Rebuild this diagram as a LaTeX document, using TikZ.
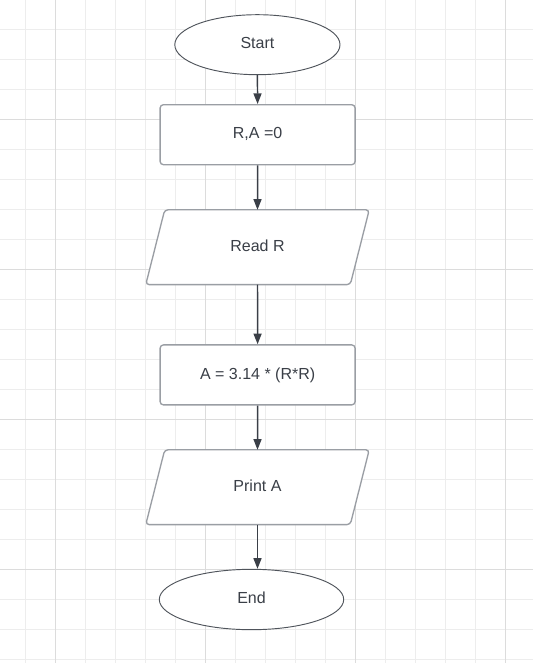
\documentclass[tikz,border=0pt]{standalone}
\usepackage{fontspec}
\setmainfont{Liberation Sans}
\usetikzlibrary{shapes.geometric,arrows.meta,backgrounds}
\definecolor{gridminor}{HTML}{EDEDED}
\definecolor{gridmajor}{HTML}{DCDCDC}
\definecolor{ink}{HTML}{3A3F47}
\definecolor{boxline}{HTML}{9A9EA4}
\definecolor{ellline}{HTML}{4F545B}
\tikzset{
  labeltext/.style={text=ink, font=\fontsize{12}{14}\selectfont, text height=8.6pt, text depth=2.2pt},
  terminal/.style={ellipse, draw=ellline, line width=0.7pt, fill=white, inner sep=0pt, labeltext},
  procbox/.style={rectangle, draw=boxline, line width=1pt, fill=white, rounded corners=2.5pt, minimum width=146.25pt, minimum height=45pt, inner sep=0pt, labeltext},
  iolabel/.style={rectangle, minimum width=153pt, minimum height=55.7pt, inner sep=0pt, labeltext},
  iostroke/.style={draw=boxline, line width=1pt, fill=white, rounded corners=2.5pt},
  flow/.style={draw=ink, line width=1.1pt, -{Triangle[length=8pt,width=6pt]}},
}
\begin{document}
\begin{tikzpicture}[x=0.75pt,y=-0.75pt]
\useasboundingbox (0,0) rectangle (533,663);
\begin{scope}[on background layer]
\fill[white] (0,0) rectangle (533,663);
\foreach \i in {0,...,17} {
  \draw[gridminor, line width=0.75pt] (25.3+30*\i,0) -- (25.3+30*\i,663);
}
\foreach \j in {0,...,21} {
  \draw[gridminor, line width=0.75pt] (0,29.3+30*\j) -- (533,29.3+30*\j);
}
\foreach \i in {0,...,3} {
  \draw[gridmajor, line width=0.9pt] (55.3+150*\i,0) -- (55.3+150*\i,663);
  \draw[gridmajor, line width=0.9pt] (0,119.3+150*\i) -- (533,119.3+150*\i);
}
\end{scope}
% nodes
\node[terminal, minimum width=123.9pt, minimum height=45pt] (start) at (257.4,44.7) {Start};
\node[procbox] (init) at (257.6,134.7) {R,A =0};
\node[iolabel] (read) at (257.5,247.2) {Read R};
\node[procbox] (calc) at (257.6,374.9) {A = 3.14 * (R*R)};
\node[iolabel] (print) at (257.5,487.2) {Print A};
\node[terminal, minimum width=138.3pt, minimum height=45.3pt] (stop) at (251.5,599.5) {End};
% parallelograms
\begin{scope}[on background layer]
\path[iostroke] ([xshift=7.1pt]read.north west) -- ([xshift=7.1pt]read.north east)
  -- ([xshift=-7.1pt]read.south east) -- ([xshift=-7.1pt]read.south west) -- cycle;
\path[iostroke] ([xshift=7.1pt]print.north west) -- ([xshift=7.1pt]print.north east)
  -- ([xshift=-7.1pt]print.south east) -- ([xshift=-7.1pt]print.south west) -- cycle;
\end{scope}
% connectors
\draw[flow] (start.south) -- (init.north);
\draw[flow] (init.south) -- (read.north);
\draw[flow] (read.south) -- (calc.north);
\draw[flow] (calc.south) -- (print.north);
\draw[flow] (print.south) -- (print.south |- stop.north);
\end{tikzpicture}
\end{document}
